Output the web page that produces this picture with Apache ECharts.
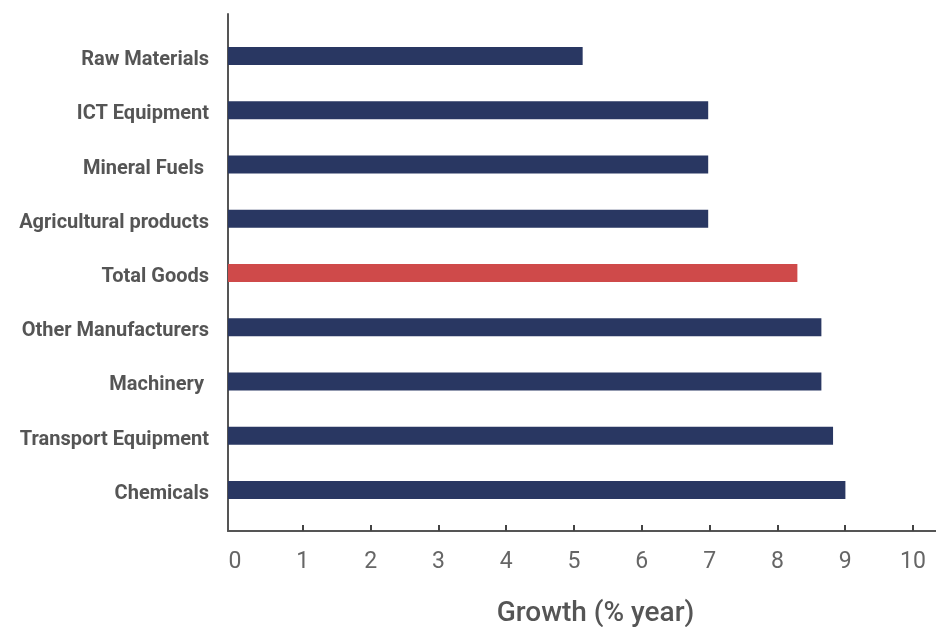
<!DOCTYPE html>
<html><head><meta charset="utf-8">
<script src="https://cdn.jsdelivr.net/npm/echarts@6/dist/echarts.min.js"></script>
<style>html,body{margin:0;padding:0;background:#fff}#c{width:936px;height:627px}</style>
</head><body><div id="c"></div>
<script>
const categories = ['Raw Materials', 'ICT Equipment', 'Mineral Fuels ', 'Agricultural products', 'Total Goods', 'Other Manufacturers', 'Machinery ', 'Transport Equipment', 'Chemicals'];
const growth = [5.17, 7.0, 7.0, 7.0, 8.3, 8.65, 8.65, 8.82, 9.0];
const highlighted = 'Total Goods';
const tickLabels = [0, 1, 2, 3, 4, 5, 6, 7, 8, 9, 10];
const tickMarks = [1, 2, 3, 4, 5, 6, 7, 8, 9, 10];
const axisTitle = 'Growth (% year)';

const NAVY = '#293762', RED = '#cf4a4a', FONT = 'Roboto, "Noto Sans", sans-serif';
const chart = echarts.init(document.getElementById('c'), null, {renderer: 'canvas'});
chart.setOption({
  animation: false,
  backgroundColor: '#fff',
  grid: [
    {left: 228, top: 29, height: 488, width: 686, outerBoundsMode: 'none', containLabel: false},
    {left: 235, top: 14, height: 517, width: 678, outerBoundsMode: 'none', containLabel: false},
    {left: 228, top: 14, height: 517, right: 0, outerBoundsMode: 'none', containLabel: false}
  ],
  xAxis: [
    {gridIndex: 0, type: 'value', min: 0, max: 10, show: false},
    {gridIndex: 1, type: 'value', min: 0, max: 10, interval: 1,
      axisLine: {show: false}, splitLine: {show: false},
      axisTick: {show: true, inside: true, length: 6, lineStyle: {color: '#444', width: 2}, customValues: tickMarks},
      axisLabel: {show: true, margin: 20, color: '#666', fontSize: 23, fontFamily: FONT, customValues: tickLabels}
    },
    {gridIndex: 2, type: 'value', min: 0, max: 1,
      axisLine: {show: true, lineStyle: {color: '#555', width: 2}},
      axisTick: {show: false}, axisLabel: {show: false}, splitLine: {show: false},
      name: axisTitle, nameLocation: 'middle', nameGap: 69,
      nameTextStyle: {color: '#555', fontSize: 28, fontWeight: 500, fontFamily: FONT, padding: [0, 0, 0, 27]}
    }
  ],
  yAxis: [
    {gridIndex: 0, type: 'category', data: categories, inverse: true,
      axisLine: {show: false}, axisTick: {show: false}, splitLine: {show: false},
      axisLabel: {margin: 19, formatter: v => '{a|' + v + '}',
        rich: {a: {color: '#555', fontSize: 20, fontWeight: 'bold', fontFamily: FONT, lineHeight: 28, verticalAlign: 'bottom'}}}
    },
    {gridIndex: 1, type: 'value', show: false},
    {gridIndex: 2, type: 'value', min: 0, max: 1,
      axisLine: {show: true, lineStyle: {color: '#555', width: 2}},
      axisTick: {show: false}, axisLabel: {show: false}, splitLine: {show: false}
    }
  ],
  series: [{
    type: 'bar', xAxisIndex: 0, yAxisIndex: 0, barWidth: 18,
    data: categories.map((c, i) => ({value: growth[i], itemStyle: {color: c === highlighted ? RED : NAVY}}))
  }]
});
</script></body></html>
